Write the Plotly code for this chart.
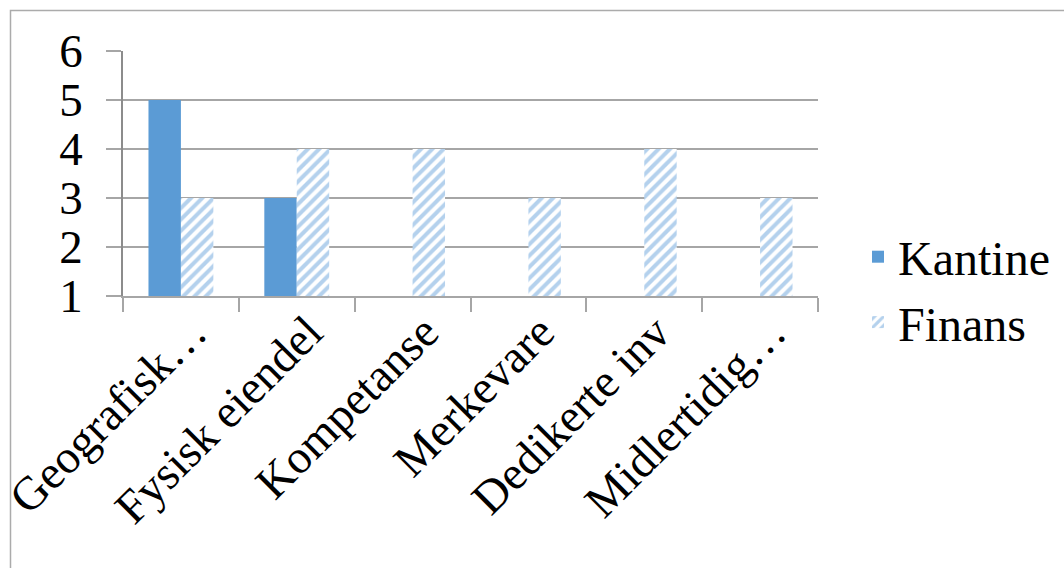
import plotly.graph_objects as go

categories = ["Geografisk…", "Fysisk eiendel", "Kompetanse", "Merkevare", "Dedikerte inv", "Midlertidig…"]
kantine = [5, 3, None, None, None, None]
finans = [3, 4, 4, 3, 4, 3]
y_ticks = [1, 2, 3, 4, 5, 6]

FONT = "Liberation Serif, Times New Roman, serif"
FS = 48

W, H = 1064, 568
L, R, T, B = 123, 246, 51, 272
pw, ph = W - L - R, H - T - B

fig = go.Figure()
fig.add_trace(go.Bar(
    x=categories, y=kantine, name="Kantine",
    marker=dict(color="#5B9BD5", line=dict(width=0)),
))
fig.add_trace(go.Bar(
    x=categories, y=finans, name="Finans",
    marker=dict(color="white", line=dict(width=0),
                pattern=dict(shape="/", fgcolor="#6AA4DB", bgcolor="white",
                             size=8, solidity=0.5, fillmode="overlay")),
))

fig.update_layout(
    width=W, height=H,
    margin=dict(l=L, r=R, t=T, b=B, autoexpand=False),
    paper_bgcolor="white", plot_bgcolor="white",
    barmode="group", bargap=0.44, bargroupgap=0,
    font=dict(family=FONT, size=FS, color="black"),
    showlegend=True,
    legend=dict(x=(858 - L) / pw, y=(296 - 219) / ph, xanchor="left", yanchor="top",
                font=dict(family=FONT, size=FS), bgcolor="rgba(0,0,0,0)",
                itemclick=False),
    xaxis=dict(
        type="category", tickangle=-45, tickson="boundaries",
        ticks="outside", ticklen=14, tickcolor="#A6A6A6", tickwidth=1.5,
        showline=True, linecolor="#A6A6A6", linewidth=1.5,
        showgrid=False, automargin=False,
        ticklabelstandoff=-12, ticklabelshift=12,
        tickfont=dict(family=FONT, size=47),
    ),
    yaxis=dict(
        range=[1, 6], tickvals=y_ticks, ticks="outside", ticklen=15,
        tickcolor="#A6A6A6", tickwidth=1.5,
        showline=True, linecolor="#8C8C8C", linewidth=1.5,
        showgrid=True, gridcolor="#A6A6A6", gridwidth=1.5,
        zeroline=False, automargin=False, ticklabelstandoff=14,
        tickfont=dict(family=FONT, size=47),
    ),
    shapes=[dict(type="rect", xref="paper", yref="paper",
                 x0=(10.5 - L) / pw, x1=1.6, y0=-2, y1=(296 - 10.5) / ph,
                 line=dict(color="#ABABAB", width=1.5), fillcolor="rgba(0,0,0,0)", layer="below")],
)

fig.write_html("out.html")
